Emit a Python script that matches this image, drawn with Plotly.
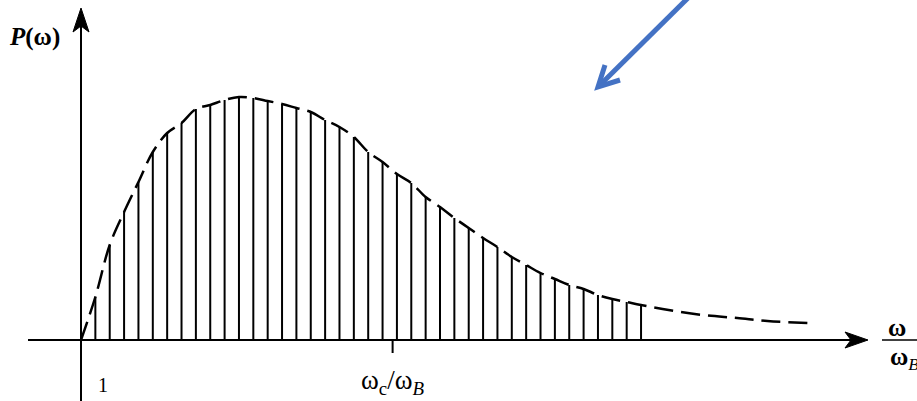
import plotly.graph_objects as go

# --- data (x in line-spacing units, P in arbitrary units) ---
line_x = [1, 2, 3, 4, 5, 6, 7, 8, 9, 10, 11, 12, 13, 14, 15, 16, 17, 18, 19, 20,
          21, 22, 23, 24, 25, 26, 27, 28, 29, 30, 31, 32, 33, 34, 35, 36, 37, 38, 39]
line_p = [43, 95, 128, 158, 188, 207, 217, 231, 235, 240, 243, 242, 239, 236, 232,
          228, 220, 213, 203, 188, 178, 166, 157, 143, 133, 122, 112, 102, 93, 83,
          75, 67, 61, 55, 51, 45, 41, 38, 35]
tail_x = [40.5, 43.3, 45.7, 47.8, 50.8]
tail_p = [31, 25, 22, 19, 17]
start_x = [0]
start_p = [0]
wc_x = 21.7  # position of omega_c / omega_B tick
one_x = 1.5  # position of the "1" label

curve_x = start_x + line_x + tail_x
curve_p = start_p + line_p + tail_p

# vertical lines built from data
vx, vy = [], []
for x, p in zip(line_x, line_p):
    vx += [x, x, None]
    vy += [0, p, None]

fig = go.Figure()
fig.add_trace(go.Scatter(x=vx, y=vy, mode="lines",
                         line=dict(color="black", width=2), hoverinfo="skip"))
fig.add_trace(go.Scatter(x=curve_x, y=curve_p, mode="lines",
                         line=dict(color="black", width=2.5, dash="19px,8px", shape="spline"),
                         hoverinfo="skip"))

X0, X1 = -81 / 14.36, (917 - 81) / 14.36
Y0, Y1 = -61, 340
sx = 1 / 14.36  # one pixel in x data units

shapes = []
# y axis line
shapes.append(dict(type="line", x0=0, x1=0, y0=-61, y1=318, line=dict(color="black", width=2)))
# y axis arrowhead
shapes.append(dict(type="path",
                   path=f"M 0 332 L {-8*sx} 308 L 0 314 L {8*sx} 308 Z",
                   fillcolor="black", line=dict(color="black", width=1)))
# x axis line
shapes.append(dict(type="line", x0=-3.69, x1=54.0, y0=0, y1=0, line=dict(color="black", width=2)))
# x axis arrowhead
tip = (868 - 81) * sx
shapes.append(dict(type="path",
                   path=f"M {tip} 0 L {tip-23*sx} 8 L {tip-17*sx} 0 L {tip-23*sx} -8 Z",
                   fillcolor="black", line=dict(color="black", width=1)))
# omega_c tick
shapes.append(dict(type="line", x0=wc_x, x1=wc_x, y0=0, y1=-13, line=dict(color="black", width=2)))
# fraction bar of axis label
shapes.append(dict(type="line", x0=(882 - 81) * sx, x1=(917 - 81) * sx, y0=0, y1=0,
                   line=dict(color="black", width=1.5)))

# blue arrow (paper coords; plot area fills figure)
def px(x):
    return x / 917
def py(y):
    return 1 - y / 401
blue = "#4472C4"
shapes.append(dict(type="path", xref="paper", yref="paper",
                   path=f"M {px(690)} {py(-4)} L {px(599)} {py(86)}",
                   line=dict(color=blue, width=5)))
shapes.append(dict(type="path", xref="paper", yref="paper",
                   path=f"M {px(605)} {py(65)} L {px(598)} {py(87)} L {px(620)} {py(80)}",
                   line=dict(color=blue, width=5)))

serif = "Liberation Serif"
annotations = [
    dict(x=px(7), y=py(21), xref="paper", yref="paper", xanchor="left", showarrow=False,
         text="<b><i>P</i>(ω)</b>", font=dict(family=serif, size=25, color="black")),
    dict(x=one_x, y=-45, showarrow=False, text="1",
         font=dict(family=serif, size=20, color="black")),
    dict(x=wc_x, y=-42, showarrow=False, text="ω<sub>c</sub>/ω<sub><i>B</i></sub>",
         font=dict(family=serif, size=27, color="black")),
    dict(x=(897 - 81) * sx, y=13, showarrow=False, text="<b>ω</b>",
         font=dict(family=serif, size=25, color="black")),
    dict(x=(904 - 81) * sx, y=-18, showarrow=False, text="<b>ω</b><sub><i>B</i></sub>",
         font=dict(family=serif, size=25, color="black")),
]

fig.update_layout(
    width=917, height=401,
    margin=dict(l=0, r=0, t=0, b=0),
    paper_bgcolor="white", plot_bgcolor="white",
    showlegend=False,
    xaxis=dict(range=[X0, X1], visible=False, fixedrange=True),
    yaxis=dict(range=[Y0, Y1], visible=False, fixedrange=True),
    shapes=shapes, annotations=annotations,
)

fig.write_html("out.html", config={"displayModeBar": False},
               post_script="document.body.style.margin='0';document.body.style.overflow='hidden';")
